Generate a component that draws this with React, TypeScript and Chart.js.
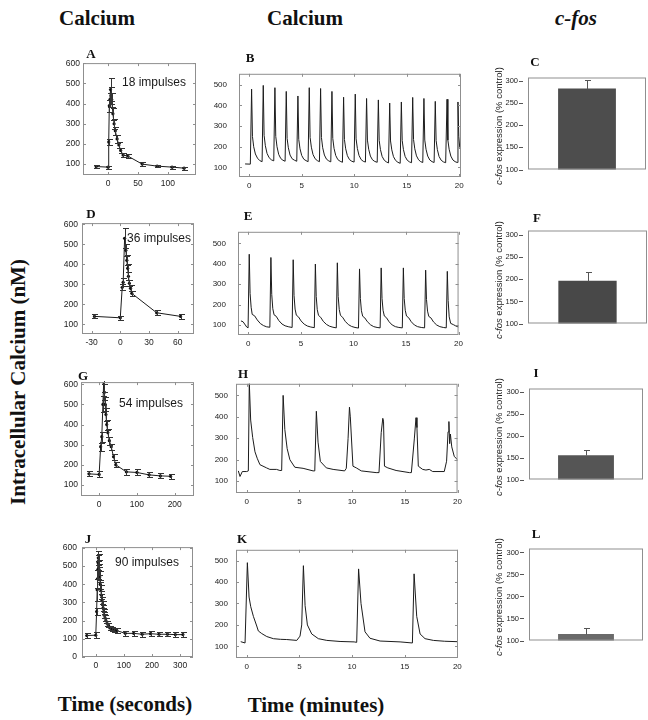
import React, { useEffect, useRef } from "react";
import { Chart, registerables } from "chart.js";

Chart.register(...registerables);

const SANS = "'Liberation Sans', Arial, Helvetica, sans-serif";
const SERIF = "'Liberation Serif', 'Times New Roman', Times, serif";

// ---------- Panel A: 18 impulses (seconds) ----------
const aTime = [-20, 0, 1, 2, 3, 4, 5, 6, 8, 10, 12, 15, 18, 21, 25, 33, 57, 82, 107, 127];
const aCa = [88, 85, 210, 390, 420, 470, 440, 420, 350, 300, 265, 225, 195, 168, 145, 140, 100, 90, 85, 80];
const aErr = [6, 8, 15, 30, 35, 55, 40, 35, 30, 25, 20, 18, 15, 12, 10, 8, 8, 6, 8, 8];

// ---------- Panel D: 36 impulses (seconds) ----------
const dTime = [-27, 0, 2, 3, 4.5, 5.8, 6.8, 7.7, 8.5, 9.5, 10.7, 12, 38, 63];
const dCa = [140, 133, 285, 310, 530, 470, 420, 380, 340, 305, 280, 255, 158, 140];
const dErr = [10, 10, 15, 20, 50, 30, 25, 20, 20, 15, 15, 12, 12, 12];

// ---------- Panel G: 54 impulses (seconds) ----------
const gTime = [-27, 0, 4, 7, 10, 12, 14, 16, 18, 20, 23, 27, 32, 38, 44, 72, 100, 132, 162, 189];
const gCa = [155, 152, 290, 340, 500, 610, 560, 500, 450, 400, 360, 320, 290, 240, 200, 165, 162, 150, 145, 143];
const gErr = [12, 15, 20, 25, 40, 50, 40, 35, 30, 25, 20, 20, 15, 15, 12, 15, 15, 12, 12, 12];

// ---------- Panel J: 90 impulses (seconds) ----------
const jTime = [-32, 0, 3, 5, 6, 7, 8, 9, 10, 11, 12, 14, 16, 18, 20, 22, 24, 26, 28, 30, 33, 36, 40, 45, 50, 58, 66, 75, 105, 135, 165, 195, 225, 255, 283, 310];
const jCa = [118, 120, 250, 370, 430, 480, 520, 545, 530, 505, 480, 440, 400, 370, 340, 310, 290, 270, 250, 230, 215, 200, 185, 175, 160, 155, 150, 145, 130, 130, 125, 128, 125, 125, 123, 123];
const jErr = [12, 15, 20, 60, 50, 50, 40, 40, 35, 30, 30, 30, 25, 25, 20, 20, 20, 18, 15, 15, 15, 12, 12, 12, 12, 12, 12, 12, 15, 15, 15, 15, 12, 12, 12, 12];

// ---------- Panel B trace (minutes, nM) ----------
const bTrace: [number, number][] = [
  [-0.4, 117], [0.1, 116], [0.22, 478], [0.3, 250], [0.42, 200], [0.58, 165], [0.78, 145], [1.0, 133], [1.22, 128],
  [1.33, 496], [1.41, 255], [1.53, 205], [1.69, 168], [1.89, 147], [2.1, 137], [2.33, 132],
  [2.44, 485], [2.52, 250], [2.64, 200], [2.8, 163], [3.0, 143], [3.2, 135], [3.41, 130],
  [3.52, 467], [3.6, 240], [3.72, 195], [3.88, 160], [4.08, 142], [4.3, 135], [4.52, 130],
  [4.63, 445], [4.71, 235], [4.83, 190], [4.99, 158], [5.19, 140], [5.4, 133], [5.6, 128],
  [5.71, 485], [5.79, 245], [5.91, 198], [6.07, 162], [6.27, 142], [6.48, 133], [6.68, 128],
  [6.79, 481], [6.87, 245], [6.99, 195], [7.15, 160], [7.35, 140], [7.56, 132], [7.76, 127],
  [7.87, 467], [7.95, 240], [8.07, 192], [8.23, 158], [8.43, 138], [8.65, 130], [8.87, 125],
  [8.98, 439], [9.06, 235], [9.18, 190], [9.34, 157], [9.54, 138], [9.76, 130], [9.98, 126],
  [10.09, 454], [10.17, 238], [10.29, 192], [10.45, 158], [10.65, 138], [10.85, 130], [11.06, 126],
  [11.17, 433], [11.25, 232], [11.37, 188], [11.53, 155], [11.73, 137], [11.95, 129], [12.18, 125],
  [12.29, 426], [12.37, 230], [12.49, 186], [12.65, 153], [12.85, 135], [13.05, 127], [13.26, 122],
  [13.37, 411], [13.45, 228], [13.57, 185], [13.73, 152], [13.93, 134], [14.15, 125], [14.37, 120],
  [14.48, 416], [14.56, 230], [14.68, 186], [14.84, 153], [15.04, 135], [15.25, 127], [15.45, 123],
  [15.56, 438], [15.64, 235], [15.76, 190], [15.92, 156], [16.12, 137], [16.32, 128], [16.52, 124],
  [16.63, 433], [16.71, 232], [16.83, 188], [16.99, 155], [17.19, 136], [17.4, 128], [17.6, 124],
  [17.71, 419], [17.79, 230], [17.91, 186], [18.07, 153], [18.27, 135], [18.48, 127], [18.7, 123],
  [18.83, 429], [18.91, 232], [19.03, 188], [19.19, 155], [19.39, 136], [19.6, 128], [19.8, 124],
  [19.87, 416], [19.95, 250], [20.05, 190],
];

// ---------- Panel E trace ----------
const eTrace: [number, number][] = [
  [-0.7, 120], [-0.5, 116], [-0.35, 105], [-0.15, 90], [-0.02, 86], [0.09, 447], [0.17, 255], [0.27, 187], [0.37, 152], [0.6, 145], [0.85, 125], [1.15, 107], [1.45, 97], [1.75, 91], [2.05, 89],
  [2.15, 431], [2.23, 250], [2.33, 180], [2.45, 150], [2.65, 143], [2.9, 122], [3.2, 105], [3.5, 96], [3.85, 91], [4.17, 88],
  [4.27, 420], [4.35, 245], [4.45, 178], [4.57, 148], [4.77, 140], [5.02, 120], [5.32, 104], [5.62, 95], [5.95, 90], [6.28, 87],
  [6.38, 399], [6.46, 240], [6.56, 175], [6.68, 147], [6.88, 138], [7.13, 118], [7.43, 103], [7.73, 94], [8.05, 89], [8.37, 86],
  [8.47, 405], [8.55, 240], [8.65, 176], [8.77, 147], [8.97, 138], [9.22, 118], [9.52, 102], [9.82, 93], [10.15, 88], [10.48, 85],
  [10.58, 375], [10.66, 230], [10.76, 170], [10.88, 143], [11.08, 135], [11.33, 116], [11.63, 101], [11.93, 92], [12.25, 88], [12.54, 86],
  [12.64, 380], [12.72, 230], [12.82, 172], [12.94, 144], [13.14, 136], [13.39, 116], [13.69, 100], [13.99, 92], [14.32, 88], [14.65, 86],
  [14.75, 380], [14.83, 230], [14.93, 172], [15.05, 144], [15.25, 136], [15.5, 116], [15.8, 100], [16.1, 92], [16.45, 88], [16.77, 86],
  [16.87, 369], [16.95, 225], [17.05, 168], [17.17, 142], [17.37, 135], [17.62, 115], [17.92, 100], [18.22, 92], [18.55, 88], [18.83, 86],
  [18.93, 363], [19.01, 220], [19.11, 140], [19.25, 108], [19.5, 102], [19.75, 95], [20.0, 90],
];

// ---------- Panel H trace ----------
const hTrace: [number, number][] = [
  [-0.79, 148], [-0.63, 122], [-0.41, 145], [0.0, 145], [0.16, 148], [0.25, 560], [0.38, 385], [0.57, 304], [0.79, 237], [1.0, 207], [1.26, 177], [1.89, 162], [2.2, 155], [2.83, 155], [3.15, 150], [3.32, 150],
  [3.46, 500], [3.62, 341], [3.84, 252], [4.1, 200], [4.57, 165], [5.35, 160], [6.3, 148], [6.46, 148],
  [6.61, 426], [6.77, 282], [6.99, 192], [7.56, 162], [8.2, 155], [9.29, 148], [9.45, 160],
  [9.62, 300], [9.75, 445], [9.83, 400], [10.08, 170], [10.4, 162], [10.87, 148], [12.28, 140], [12.55, 140],
  [12.76, 326], [12.91, 393], [12.98, 380], [13.07, 170], [13.39, 162], [14.17, 150], [15.43, 140], [15.62, 140],
  [15.9, 297], [16.06, 396], [16.15, 350], [16.28, 170], [16.69, 155], [17.0, 152], [17.32, 155], [17.64, 145], [18.74, 145],
  [18.96, 193], [19.1, 330], [19.18, 378], [19.25, 275], [19.32, 320], [19.45, 260], [19.69, 215], [20.0, 200],
];

// ---------- Panel K trace ----------
const kTrace: [number, number][] = [
  [-0.57, 122], [-0.16, 116], [0.06, 490], [0.22, 330], [0.38, 285], [0.63, 240], [0.95, 195], [1.1, 172], [1.42, 160], [1.9, 146], [2.53, 136], [3.2, 133], [3.8, 132], [4.75, 128],
  [5.06, 148], [5.22, 200], [5.38, 476], [5.54, 290], [5.76, 200], [6.17, 158], [6.8, 136], [7.6, 128], [8.86, 123], [10.2, 121], [10.44, 119],
  [10.62, 461], [10.85, 300], [11.23, 168], [11.7, 138], [12.66, 125], [14.56, 121], [15.73, 116],
  [15.89, 438], [16.14, 240], [16.46, 158], [16.93, 136], [17.72, 128], [18.8, 124], [20.0, 122],
];

// ---------- c-fos bars (% control) ----------
const fosValues = [283, 197, 155, 115];
const fosErrors = [19, 19, 12, 13];

// ---------- tick labels ----------
const secTicksA = [0, 50, 100];
const secTicksD = [-30, 0, 30, 60];
const secTicksG = [0, 100, 200];
const secTicksJ = [0, 100, 200, 300];
const minTicks = [0, 5, 10, 15, 20];
const caTicks6 = [100, 200, 300, 400, 500, 600];
const caTicksJ = [0, 100, 200, 300, 400, 500, 600];
const caTicks5 = [100, 200, 300, 400, 500];
const fosTicks = [100, 150, 200, 250, 300];

type Box = { l: number; t: number; r: number; b: number };
type Pad = { l: number; t: number; r: number; b: number };

function makeFrame(color: string, innerTicks: boolean, outerYTicks: boolean) {
  return {
    id: "frame",
    afterDraw(chart: any) {
      const { ctx, chartArea: a } = chart;
      ctx.save();
      ctx.strokeStyle = color;
      ctx.lineWidth = 1;
      ctx.strokeRect(a.left + 0.5, a.top + 0.5, a.right - a.left - 1, a.bottom - a.top - 1);
      const ys = chart.scales.y;
      if (innerTicks) {
        const L = 3;
        ctx.beginPath();
        const xs = chart.scales.x;
        ys.ticks.forEach((t: any) => {
          const y = Math.round(ys.getPixelForValue(t.value)) + 0.5;
          ctx.moveTo(a.left, y);
          ctx.lineTo(a.left + L, y);
          ctx.moveTo(a.right, y);
          ctx.lineTo(a.right - L, y);
        });
        xs.ticks.forEach((t: any) => {
          const x = Math.round(xs.getPixelForValue(t.value)) + 0.5;
          ctx.moveTo(x, a.bottom);
          ctx.lineTo(x, a.bottom - L);
          ctx.moveTo(x, a.top);
          ctx.lineTo(x, a.top + L);
        });
        ctx.stroke();
      }
      if (outerYTicks) {
        ctx.beginPath();
        ctx.strokeStyle = "#555";
        ys.ticks.forEach((t: any) => {
          const y = Math.round(ys.getPixelForValue(t.value)) + 0.5;
          ctx.moveTo(a.left - 9, y);
          ctx.lineTo(a.left - 5, y);
        });
        ctx.stroke();
      }
      ctx.restore();
    },
  };
}

const errorBarPlugin = {
  id: "errorBars",
  afterDatasetsDraw(chart: any) {
    const { ctx, chartArea: a } = chart;
    const ys = chart.scales.y;
    chart.data.datasets.forEach((ds: any, i: number) => {
      if (!ds.errors) return;
      const meta = chart.getDatasetMeta(i);
      ctx.save();
      ctx.beginPath();
      ctx.rect(a.left, a.top - 1, a.right - a.left, a.bottom - a.top + 2);
      ctx.clip();
      ctx.strokeStyle = ds.errorColor || "#222";
      ctx.lineWidth = 1;
      const cap = ds.capHalf ?? 2.5;
      meta.data.forEach((el: any, j: number) => {
        const raw = ds.data[j];
        const v = typeof raw === "number" ? raw : raw.y;
        const e = ds.errors[j];
        if (!e) return;
        const x = Math.round(el.x) + 0.5;
        const yTop = Math.round(ys.getPixelForValue(v + e)) + 0.5;
        const yBot = Math.round(ys.getPixelForValue(ds.upOnly ? v : v - e)) + 0.5;
        ctx.beginPath();
        ctx.moveTo(x, yTop);
        ctx.lineTo(x, yBot);
        ctx.moveTo(x - cap, yTop);
        ctx.lineTo(x + cap + 1, yTop);
        if (!ds.upOnly) {
          ctx.moveTo(x - cap, yBot);
          ctx.lineTo(x + cap + 1, yBot);
        }
        ctx.stroke();
      });
      ctx.restore();
    });
  },
};

function ChartCanvas({ box, pad, build }: { box: Box; pad: Pad; build: () => any }) {
  const ref = useRef<HTMLCanvasElement>(null);
  const w = box.r - box.l + pad.l + pad.r;
  const h = box.b - box.t + pad.t + pad.b;
  useEffect(() => {
    const chart = new Chart(ref.current as HTMLCanvasElement, build());
    return () => chart.destroy();
  }, []);
  return (
    <canvas
      ref={ref}
      width={w}
      height={h}
      style={{ position: "absolute", left: box.l - pad.l, top: box.t - pad.t, width: w, height: h }}
    />
  );
}

type LineSpec = {
  box: Box;
  x: [number, number];
  y: [number, number];
  xTicks: number[];
  yTicks: number[];
  points: { x: number; y: number }[];
  errors?: number[];
  font: number;
  yGap: number;
};

const LINE_PAD: Pad = { l: 32, t: 8, r: 8, b: 18 };

function lineConfig(s: LineSpec) {
  const tickFont = { family: SANS, size: s.font };
  return {
    type: "line",
    data: {
      datasets: [
        {
          data: s.points,
          borderColor: "#1c1c1c",
          borderWidth: 1,
          pointRadius: s.errors ? 1.6 : 0,
          pointBackgroundColor: "#111",
          pointBorderWidth: 0,
          tension: 0,
          errors: s.errors,
          errorColor: "#333",
          capHalf: 2.5,
        },
      ],
    },
    options: {
      animation: false,
      responsive: false,
      devicePixelRatio: 1,
      layout: { padding: { top: LINE_PAD.t, right: LINE_PAD.r, left: 0, bottom: 0 } },
      plugins: { legend: { display: false }, tooltip: { enabled: false } },
      scales: {
        x: {
          type: "linear",
          min: s.x[0],
          max: s.x[1],
          afterBuildTicks: (sc: any) => {
            sc.ticks = s.xTicks.map((v) => ({ value: v }));
          },
          afterFit: (sc: any) => {
            sc.height = LINE_PAD.b;
          },
          grid: { display: false, drawTicks: false },
          border: { display: false },
          ticks: { font: tickFont, color: "#222", padding: 4, maxRotation: 0, autoSkip: false },
        },
        y: {
          type: "linear",
          min: s.y[0],
          max: s.y[1],
          afterBuildTicks: (sc: any) => {
            sc.ticks = s.yTicks.map((v) => ({ value: v }));
          },
          afterFit: (sc: any) => {
            sc.width = LINE_PAD.l;
          },
          grid: { display: false, drawTicks: false },
          border: { display: false },
          ticks: { font: tickFont, color: "#222", padding: s.yGap, autoSkip: false },
        },
      },
    },
    plugins: [makeFrame("#8f8f8f", true, false), errorBarPlugin],
  };
}

const BAR_PAD: Pad = { l: 32, t: 8, r: 1, b: 2 };

function barConfig(value: number, err: number, yMax: number, color: string) {
  return {
    type: "bar",
    data: {
      labels: [""],
      datasets: [
        {
          data: [value],
          backgroundColor: color,
          borderWidth: 0,
          barPercentage: 0.49,
          categoryPercentage: 1,
          errors: [err],
          errorColor: "#555",
          upOnly: true,
          capHalf: 2.5,
        },
      ],
    },
    options: {
      animation: false,
      responsive: false,
      devicePixelRatio: 1,
      layout: { padding: { top: BAR_PAD.t, right: BAR_PAD.r, left: 0, bottom: BAR_PAD.b } },
      plugins: { legend: { display: false }, tooltip: { enabled: false } },
      scales: {
        x: { display: false },
        y: {
          type: "linear",
          min: 100,
          max: yMax,
          afterBuildTicks: (sc: any) => {
            sc.ticks = fosTicks.map((v) => ({ value: v }));
          },
          afterFit: (sc: any) => {
            sc.width = BAR_PAD.l;
          },
          grid: { display: false, drawTicks: false },
          border: { display: false },
          ticks: { font: { family: SANS, size: 7.5 }, color: "#222", padding: 10, autoSkip: false },
        },
      },
    },
    plugins: [makeFrame("#8f8f8f", false, true), errorBarPlugin],
  };
}

const zipPts = (t: number[], v: number[]) => t.map((x, i) => ({ x, y: v[i] }));
const pairPts = (p: [number, number][]) => p.map(([x, y]) => ({ x, y }));

function Text({ x, y, anchor = "center", style, children }: any) {
  const tr = anchor === "left" ? "translate(0,-50%)" : "translate(-50%,-50%)";
  return (
    <div style={{ position: "absolute", left: x, top: y, transform: tr, whiteSpace: "nowrap", lineHeight: 1, ...style }}>
      {children}
    </div>
  );
}

const headerStyle = { fontFamily: SERIF, fontWeight: "bold", fontSize: 21, color: "#111" };
const letterStyle = { fontFamily: SERIF, fontWeight: "bold", fontSize: 13, color: "#111" };
const impStyle = { fontFamily: SANS, fontSize: 12, color: "#1a1a1a" };
const fosTitleStyle = { fontFamily: SANS, fontSize: 9.5, color: "#222" };

function FosTitle({ x, y }: { x: number; y: number }) {
  return (
    <div
      style={{
        position: "absolute",
        left: x,
        top: y,
        transform: "translate(-50%,-50%) rotate(-90deg)",
        whiteSpace: "nowrap",
        lineHeight: 1,
        ...fosTitleStyle,
      }}
    >
      <i>c-fos</i> expression (% control)
    </div>
  );
}

export default function App() {
  const linePanels: LineSpec[] = [
    { box: { l: 83, t: 63, r: 196, b: 175 }, x: [-42, 147], y: [46, 601], xTicks: secTicksA, yTicks: caTicks6, points: zipPts(aTime, aCa), errors: aErr, font: 8.5, yGap: 3 },
    { box: { l: 82, t: 222, r: 194, b: 334 }, x: [-40, 77], y: [52, 606], xTicks: secTicksD, yTicks: caTicks6, points: zipPts(dTime, dCa), errors: dErr, font: 8.5, yGap: 4 },
    { box: { l: 81, t: 382, r: 194, b: 496 }, x: [-48, 251], y: [45, 611], xTicks: secTicksG, yTicks: caTicks6, points: zipPts(gTime, gCa), errors: gErr, font: 8.5, yGap: 3 },
    { box: { l: 82, t: 545, r: 193, b: 657 }, x: [-49, 346], y: [0, 604], xTicks: secTicksJ, yTicks: caTicksJ, points: zipPts(jTime, jCa), errors: jErr, font: 8.5, yGap: 5 },
    { box: { l: 239, t: 65, r: 461, b: 177 }, x: [-0.98, 20.16], y: [54, 552], xTicks: minTicks, yTicks: caTicks5, points: pairPts(bTrace), font: 8, yGap: 12 },
    { box: { l: 238, t: 223, r: 459, b: 335 }, x: [-0.98, 20], y: [51, 557], xTicks: minTicks, yTicks: caTicks5, points: pairPts(eTrace), font: 8, yGap: 12 },
    { box: { l: 236, t: 379, r: 458, b: 493 }, x: [-1.01, 20], y: [45, 554], xTicks: minTicks, yTicks: caTicks5, points: pairPts(hTrace), font: 8, yGap: 8 },
    { box: { l: 236, t: 545, r: 458, b: 658 }, x: [-1.02, 20.06], y: [46, 550], xTicks: minTicks, yTicks: caTicks5, points: pairPts(kTrace), font: 8, yGap: 8 },
  ];

  const barBoxes: { box: Box; yMax: number; color: string }[] = [
    { box: { l: 528, t: 71, r: 646, b: 182 }, yMax: 308, color: "#4d4d4d" },
    { box: { l: 528, t: 224, r: 647, b: 336 }, yMax: 311, color: "#484848" },
    { box: { l: 529, t: 382, r: 643, b: 492 }, yMax: 307, color: "#555555" },
    { box: { l: 529, t: 542, r: 643, b: 653 }, yMax: 309, color: "#6a6a6a" },
  ];

  const letters: [string, number, number][] = [
    ["A", 91, 53], ["B", 250, 57], ["C", 535, 61],
    ["D", 91, 213], ["E", 248, 215], ["F", 537, 217],
    ["G", 83, 375], ["H", 243, 373], ["I", 536, 372],
    ["J", 88, 538], ["K", 242, 538], ["L", 536, 533],
  ];

  const impulses: [string, number, number][] = [
    ["18 impulses", 122, 82],
    ["36 impulses", 127, 238],
    ["54 impulses", 119, 403],
    ["90 impulses", 115, 562],
  ];

  return (
    <div style={{ position: "absolute", left: 0, top: 0, width: 648, height: 720, overflow: "hidden", background: "#fff" }}>
      <Text x={97} y={18} style={headerStyle}>Calcium</Text>
      <Text x={305} y={18} style={headerStyle}>Calcium</Text>
      <Text x={576} y={18} style={{ ...headerStyle, fontStyle: "italic" }}>c-fos</Text>
      <div
        style={{
          position: "absolute",
          left: 18,
          top: 382,
          transform: "translate(-50%,-50%) rotate(-90deg)",
          whiteSpace: "nowrap",
          lineHeight: 1,
          ...headerStyle,
        }}
      >
        Intracellular Calcium (nM)
      </div>
      <Text x={125} y={704} style={headerStyle}>Time (seconds)</Text>
      <Text x={316} y={705} style={headerStyle}>Time (minutes)</Text>

      {linePanels.map((p, i) => (
        <ChartCanvas key={"l" + i} box={p.box} pad={LINE_PAD} build={() => lineConfig(p)} />
      ))}
      {barBoxes.map((b, i) => (
        <ChartCanvas key={"b" + i} box={b.box} pad={BAR_PAD} build={() => barConfig(fosValues[i], fosErrors[i], b.yMax, b.color)} />
      ))}

      {letters.map(([t, x, y]) => (
        <Text key={t} x={x} y={y} style={letterStyle}>{t}</Text>
      ))}
      {impulses.map(([t, x, y]) => (
        <Text key={t} x={x} y={y} anchor="left" style={impStyle}>{t}</Text>
      ))}
      <FosTitle x={499} y={126} />
      <FosTitle x={499} y={280} />
      <FosTitle x={499} y={437} />
      <FosTitle x={499} y={597} />
    </div>
  );
}
